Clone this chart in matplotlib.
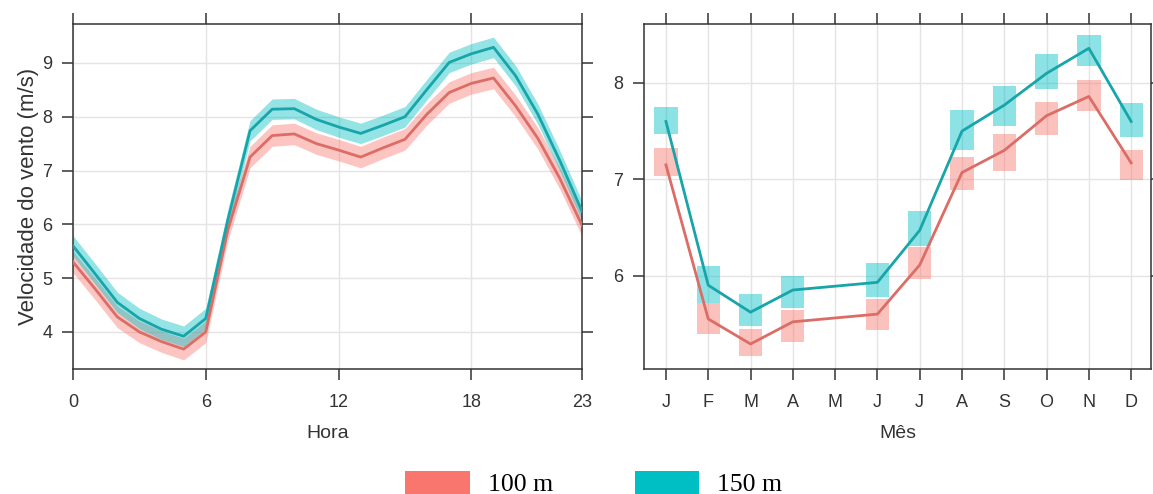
import matplotlib

matplotlib.use("Agg")
import matplotlib.pyplot as plt
from matplotlib.patches import Patch
import numpy as np

# hourly mean wind speed (m/s), hours 0..23
hours = list(range(24))
hourly_100 = [5.30, 4.80, 4.28, 4.00, 3.82, 3.68, 4.00, 5.90, 7.25, 7.65, 7.68, 7.50,
              7.38, 7.25, 7.42, 7.58, 8.05, 8.45, 8.62, 8.72, 8.20, 7.60, 6.85, 5.98]
hourly_150 = [5.60, 5.08, 4.55, 4.25, 4.05, 3.92, 4.25, 6.09, 7.74, 8.14, 8.15, 7.95,
              7.81, 7.69, 7.84, 8.00, 8.51, 9.01, 9.17, 9.29, 8.76, 8.05, 7.18, 6.24]
band_100 = 0.20   # half-width of the confidence band
band_150 = 0.19

# monthly mean wind speed (m/s)
months = ["J", "F", "M", "A", "M", "J", "J", "A", "S", "O", "N", "D"]
monthly_100 = [7.15, 5.55, 5.29, 5.52, 5.56, 5.60, 6.11, 7.07, 7.30, 7.66, 7.86, 7.17]
monthly_150 = [7.60, 5.90, 5.62, 5.85, 5.89, 5.93, 6.47, 7.50, 7.77, 8.10, 8.36, 7.60]
# confidence boxes (no box for May)
low_100 = [7.03, 5.39, 5.17, 5.31, np.nan, 5.43, 5.96, 6.89, 7.09, 7.46, 7.71, 6.99]
high_100 = [7.32, 5.72, 5.45, 5.64, np.nan, 5.76, 6.30, 7.23, 7.47, 7.80, 8.03, 7.30]
low_150 = [7.47, 5.72, 5.48, 5.66, np.nan, 5.78, 6.31, 7.30, 7.55, 7.94, 8.18, 7.44]
high_150 = [7.75, 6.10, 5.81, 6.00, np.nan, 6.13, 6.67, 7.72, 7.97, 8.30, 8.50, 7.79]

RED, TEAL = "#F8766D", "#00BFC4"
RED_LINE, TEAL_LINE = "#dc6d66", "#17a5aa"
INK = "#333333"
GRID = "#e4e4e4"
SANS = ["Liberation Sans", "DejaVu Sans"]

plt.rcParams["font.family"] = SANS

fig = plt.figure(figsize=(11.53, 4.94), dpi=100)
ax1 = fig.add_axes([0.0633, 0.253, 0.4415, 0.698])
ax2 = fig.add_axes([0.5585, 0.253, 0.4398, 0.698])


def lattice_style(ax):
    for s in ax.spines.values():
        s.set_color(INK)
        s.set_linewidth(1.1)
    ax.tick_params(axis="both", which="both", direction="out", length=8,
                   width=1.1, color=INK, labelsize=13, labelcolor=INK,
                   top=True, right=True, labeltop=False, labelright=False)
    ax.tick_params(axis="x", pad=10)
    ax.tick_params(axis="y", pad=7)
    ax.grid(True, color=GRID, linewidth=1.0, zorder=0)
    ax.set_axisbelow(True)


# left: diurnal cycle
h = np.array(hours)
for vals, band, fill, line in [(hourly_100, band_100, RED, RED_LINE),
                               (hourly_150, band_150, TEAL, TEAL_LINE)]:
    v = np.array(vals)
    ax1.fill_between(h, v - band, v + band, color=fill, alpha=0.42, lw=0, zorder=2)
    ax1.plot(h, v, color=line, lw=2, zorder=3)
ax1.set_xlim(0, 23)
ax1.set_ylim(3.31, 9.72)
ax1.set_xticks([0, 6, 12, 18, 23])
ax1.set_yticks([4, 5, 6, 7, 8, 9])
lattice_style(ax1)
ax1.set_xlabel("Hora", fontsize=14, color=INK, labelpad=10)
ax1.set_ylabel("Velocidade do vento (m/s)", fontsize=16, color=INK, labelpad=2)

# right: monthly cycle
m = np.arange(1, 13)
for lo, hi, fill in [(low_100, high_100, RED), (low_150, high_150, TEAL)]:
    lo = np.array(lo)
    hi = np.array(hi)
    ok = ~np.isnan(lo)
    ax2.bar(m[ok], hi[ok] - lo[ok], bottom=lo[ok], width=0.55, color=fill,
            alpha=0.45, lw=0, zorder=2)
ax2.plot(m, monthly_100, color=RED_LINE, lw=2, zorder=3)
ax2.plot(m, monthly_150, color=TEAL_LINE, lw=2, zorder=3)
ax2.set_xlim(0.48, 12.47)
ax2.set_ylim(5.03, 8.61)
ax2.set_xticks(m)
ax2.set_xticklabels(months, fontsize=13.5)
ax2.set_yticks([6, 7, 8])
lattice_style(ax2)
ax2.set_xlabel("Mês", fontsize=14, color=INK, labelpad=10)

handles = [Patch(facecolor=RED, edgecolor="none", label="100 m"),
           Patch(facecolor=TEAL, edgecolor="none", label="150 m")]
fig.legend(handles=handles, loc="upper center", bbox_to_anchor=(0.515, 0.094),
           ncol=2, frameon=False, handlelength=2.5, handleheight=1.0,
           handletextpad=0.7, columnspacing=3.2,
           prop={"family": "Liberation Serif", "size": 18.5})

fig.savefig("out.png", dpi=100, facecolor="white")
